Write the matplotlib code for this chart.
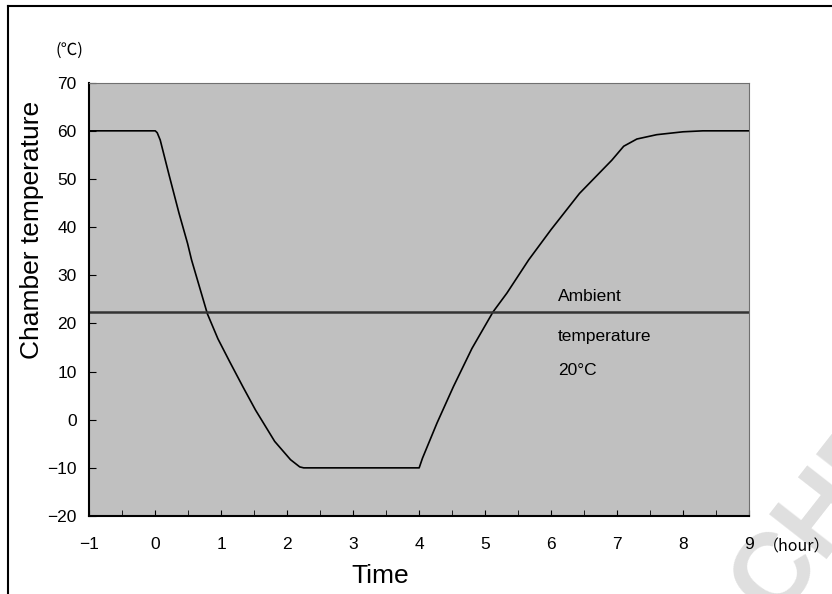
import numpy as np
import matplotlib.pyplot as plt
from matplotlib.lines import Line2D

# data
time_h = [-1.0, 0.0, 0.03, 0.075, 0.21, 0.36, 0.49, 0.55, 0.79, 0.95, 1.13,
          1.33, 1.52, 1.81, 2.05, 2.19, 2.25, 4.0, 4.05, 4.27, 4.52, 4.80,
          5.12, 5.33, 5.66, 6.0, 6.43, 6.92, 7.1, 7.3, 7.6, 8.0, 8.3, 9.0]
chamber_temp = [60, 60, 59.6, 58.1, 50.8, 42.9, 36.6, 33.2, 22.0, 16.8, 12.0,
                6.8, 2.0, -4.5, -8.3, -9.8, -10, -10, -8.0, -0.7, 6.9, 14.8,
                22.4, 26.3, 33.2, 39.5, 47.0, 53.9, 56.8, 58.3, 59.2, 59.8,
                60, 60]
ambient = 22.3
x_ticks = np.arange(-1, 10, 1)
y_ticks = np.arange(-20, 80, 10)

num_font = "Liberation Sans"
jp_font = ["Noto Sans CJK JP", "DejaVu Sans"]

fig = plt.figure(figsize=(8.32, 5.94), dpi=100)
ax = fig.add_axes([0.1073, 0.1313, 0.793, 0.7295])
ax.set_facecolor("#c0c0c0")

ax.plot(time_h, chamber_temp, color="black", lw=1.2)
ax.axhline(ambient, color="#333333", lw=1.8)

ax.set_xlim(-1, 9)
ax.set_ylim(-20, 70)
ax.set_xticks(x_ticks)
ax.set_xticks(np.arange(-1, 9.01, 0.5), minor=True)
ax.set_yticks(y_ticks)
ax.tick_params(axis="x", which="both", direction="in", length=4, pad=15,
               labelsize=12.5)
ax.tick_params(axis="y", direction="in", length=5, pad=9, labelsize=12.5)
ax.set_xticklabels([str(v).replace("-", "\u2212") for v in x_ticks])
ax.set_yticklabels([str(v).replace("-", "\u2212") for v in y_ticks])
for lab in ax.get_xticklabels() + ax.get_yticklabels():
    lab.set_fontfamily(num_font)

for side in ["top", "right"]:
    ax.spines[side].set_color("#707070")
for side in ["left", "bottom"]:
    ax.spines[side].set_linewidth(1.5)

# annotations
ax.text(6.1, 25.5, "Ambient", fontsize=12.5, family=num_font, va="center")
ax.text(6.1, 17.2, "temperature", fontsize=12.5, family=num_font, va="center")
ax.text(6.1, 10.3, "20\u00b0C", fontsize=12.5, family=num_font, va="center")

fig.text(32 / 832, 1 - 230 / 594, "Chamber temperature", rotation=90,
         fontsize=19, family=num_font, ha="center", va="center")
fig.text(380 / 832, 1 - 576 / 594, "Time", fontsize=19, family=num_font,
         ha="center", va="center")
fig.text(69 / 832, 1 - 50 / 594, "(\u2103)", fontsize=12, family=jp_font,
         ha="center", va="center")
fig.text(797 / 832, 1 - 547 / 594, "\uff08hour\uff09", fontsize=11.5,
         family=jp_font, ha="center", va="center")

# frame around the figure
fig.add_artist(Line2D([8 / 832, 8 / 832], [0, 1 - 6 / 594], color="black",
                      lw=1.5, transform=fig.transFigure))
fig.add_artist(Line2D([8 / 832, 1], [1 - 6 / 594, 1 - 6 / 594],
                      color="black", lw=1.5, transform=fig.transFigure))

# watermark
fig.text(775 / 832, 1 - 620 / 594, "CHE", rotation=52, fontsize=76,
         fontweight="bold", family=num_font, color="black", alpha=0.13,
         ha="left", va="baseline", rotation_mode="anchor")

fig.savefig("out.png", dpi=100)
